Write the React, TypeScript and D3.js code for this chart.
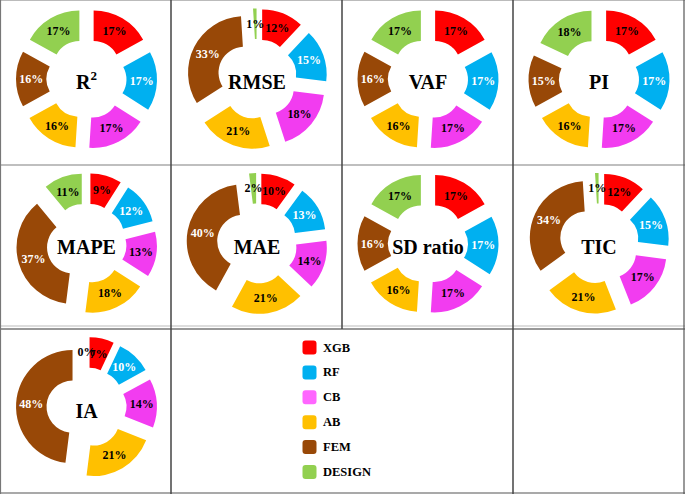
import * as d3 from "d3";
import React from "react";

const categories = ["XGB", "RF", "CB", "AB", "FEM", "DESIGN"];
const sliceColors = ["#ff0000", "#00b0f0", "#f23cf0", "#ffc000", "#984807", "#92d050"];
const legendColors = ["#ff0000", "#00b0f0", "#ff66ff", "#ffc000", "#984807", "#92d050"];
const whiteLabel = [false, true, false, false, true, false];

// percentage shares per metric, in category order
const r2Values = [17, 17, 17, 16, 16, 17];
const rmseValues = [12, 15, 18, 21, 33, 1];
const vafValues = [17, 17, 17, 16, 16, 17];
const piValues = [17, 17, 17, 16, 15, 18];
const mapeValues = [9, 12, 13, 18, 37, 11];
const maeValues = [10, 13, 14, 21, 40, 2];
const sdRatioValues = [17, 17, 17, 16, 16, 17];
const ticValues = [12, 15, 17, 21, 34, 1];
const iaValues = [7, 10, 14, 21, 48, 0];

const metrics = [
  { name: "R", sup: "2", values: r2Values },
  { name: "RMSE", values: rmseValues },
  { name: "VAF", values: vafValues },
  { name: "PI", values: piValues },
  { name: "MAPE", values: mapeValues },
  { name: "MAE", values: maeValues },
  { name: "SD ratio", values: sdRatioValues },
  { name: "TIC", values: ticValues },
  { name: "IA", values: iaValues },
];

const W = 685;
const H = 494;
const colX = [0.5, 171, 342, 513, 684];
const rowY = [0.5, 165, 329, 493];
const font = "'Liberation Serif', 'Times New Roman', serif";

const outerR = 56.5;
const innerR = 26;
const explode = 14;

type Datum = { value: number; index: number };

const pie = d3
  .pie<Datum>()
  .sort(null)
  .value((d) => d.value)
  .startAngle(0)
  .endAngle(2 * Math.PI);

const arc = d3
  .arc<d3.PieArcDatum<Datum>>()
  .innerRadius(innerR)
  .outerRadius(outerR);

const Donut: React.FC<{ metric: (typeof metrics)[number]; cx: number; cy: number }> = ({
  metric,
  cx,
  cy,
}) => {
  const arcs = pie(metric.values.map((v, i) => ({ value: v, index: i })));
  return (
    <g transform={`translate(${cx},${cy})`}>
      {arcs.map((a) => {
        const mid = (a.startAngle + a.endAngle) / 2;
        const dx = explode * Math.sin(mid);
        const dy = -explode * Math.cos(mid);
        return (
          <g key={a.data.index} transform={`translate(${dx},${dy})`}>
            <path d={arc(a) || ""} fill={sliceColors[a.data.index]} />
          </g>
        );
      })}
      {arcs.map((a) => {
        const mid = (a.startAngle + a.endAngle) / 2;
        const dx = explode * Math.sin(mid);
        const dy = -explode * Math.cos(mid);
        const [lx, ly] = arc.centroid(a);
        return (
          <text
            key={"t" + a.data.index}
            x={lx + dx}
            y={ly + dy}
            textAnchor="middle"
            dominantBaseline="central"
            fontFamily={font}
            fontWeight="bold"
            fontSize={12}
            fill={whiteLabel[a.data.index] ? "#ffffff" : "#000000"}
          >
            {a.data.value}%
          </text>
        );
      })}
      <text
        x={0}
        y={3}
        textAnchor="middle"
        dominantBaseline="central"
        fontFamily={font}
        fontWeight="bold"
        fontSize={20}
        fill="#000"
      >
        {metric.name}
        {metric.sup && (
          <tspan fontSize={13} dy={-7}>
            {metric.sup}
          </tspan>
        )}
      </text>
    </g>
  );
};

export default function App() {
  const legendY = d3
    .scalePoint<string>()
    .domain(categories)
    .range([347.5, 472]);

  return (
    <svg
      width={W}
      height={H}
      style={{ position: "absolute", left: 0, top: 0, display: "block", background: "#fff" }}
    >
      <rect x={0} y={0} width={W} height={H} fill="#fff" />
      {metrics.map((m, i) => {
        const c = i % 4;
        const r = Math.floor(i / 4);
        const cx = colX[c] + 86;
        const cy = rowY[r] + 78.5;
        return <Donut key={m.name} metric={m} cx={cx} cy={cy} />;
      })}

      {/* grid lines */}
      <line x1={0} x2={W} y1={0.5} y2={0.5} stroke="#bbb" strokeWidth={1} />
      <line x1={0} x2={W} y1={165} y2={165} stroke="#aaa" strokeWidth={1.5} />
      <line x1={0} x2={W} y1={326} y2={326} stroke="#bbb" strokeWidth={1} />
      <line x1={0} x2={W} y1={329} y2={329} stroke="#333" strokeWidth={1.2} />
      <line x1={0} x2={W} y1={493} y2={493} stroke="#555" strokeWidth={1.2} />
      <line x1={0.5} x2={0.5} y1={0} y2={H} stroke="#777" strokeWidth={1.2} />
      <line x1={171} x2={171} y1={0} y2={H} stroke="#444" strokeWidth={1.5} />
      <line x1={342} x2={342} y1={0} y2={329} stroke="#444" strokeWidth={1.5} />
      <line x1={513} x2={513} y1={0} y2={H} stroke="#444" strokeWidth={1.5} />
      <line x1={684} x2={684} y1={0} y2={H} stroke="#555" strokeWidth={1.2} />

      {/* legend */}
      {categories.map((cat, i) => (
        <g key={cat} transform={`translate(302.5,${legendY(cat)})`}>
          <rect x={0} y={-7} width={14} height={14} rx={3} fill={legendColors[i]} />
          <text
            x={20.5}
            y={0}
            dominantBaseline="central"
            fontFamily={font}
            fontWeight="bold"
            fontSize={12.5}
            fill="#000"
          >
            {cat}
          </text>
        </g>
      ))}
    </svg>
  );
}
